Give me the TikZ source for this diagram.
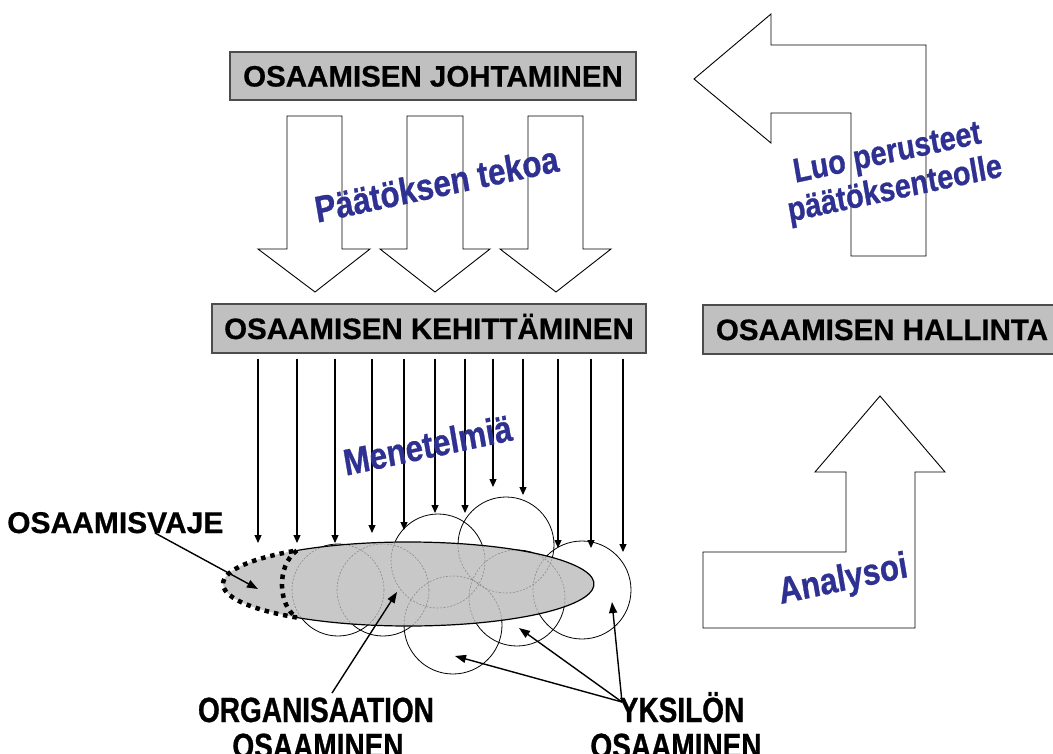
\documentclass[tikz,border=0pt]{standalone}
\usepackage{fontspec}
\setmainfont{Liberation Sans}[FakeBold=0.6]
\newfontfamily\boldsans[FakeBold=0.6]{Liberation Sans}
\newfontfamily\narrowsans[FakeStretch=0.8,FakeBold=0.8]{Liberation Sans}
\newfontfamily\notesans[FakeStretch=0.85,FakeSlant=0.04,FakeBold=0.8]{Liberation Sans}
\usetikzlibrary{arrows.meta,calc}
\definecolor{boxgray}{RGB}{192,192,192}
\definecolor{blobgray}{RGB}{200,200,200}
\definecolor{noteblue}{RGB}{46,49,146}
\begin{document}
\begin{tikzpicture}[x=1pt,y=-1pt,
  headbox/.style={draw=black!70, line width=1.3pt, fill=boxgray, inner sep=0pt,
    font=\boldsans\bfseries\fontsize{29.5}{34}\selectfont, text height=21pt, text depth=0pt},
  blockarrow/.style={draw=black, line width=0.9pt, fill=white, line join=miter},
  method/.style={line width=1.2pt, -{Triangle[length=8pt,width=7pt]}},
  callout/.style={line width=1.4pt, -{Triangle[length=11pt,width=8pt]}},
  bluelabel/.style={text=noteblue, font=\notesans\bfseries\fontsize{37}{40}\selectfont, rotate=12, align=center, inner sep=0pt},
  blacklabel/.style={font=\boldsans\bfseries\fontsize{30}{34}\selectfont, inner sep=0pt},
  narrowlabel/.style={font=\narrowsans\bfseries\fontsize{35}{39}\selectfont, inner sep=0pt},
  person/.style={draw=black, line width=0.8pt},
  personinside/.style={draw=black!45, line width=0.6pt, dash pattern=on 2pt off 1.5pt},
  gapline/.style={line width=4.5pt, dash pattern=on 4.5pt off 5pt}
]
\useasboundingbox (0,0) rectangle (1053,753);
\clip (0,0) rectangle (1053,753);

% block arrows: decisions flowing down
\foreach \l/\r/\hl/\hr/\tip in {287/342/258/370/315, 407/463/380/490/435, 528/583/500/611/556}
  \draw[blockarrow] (\l,116) -- (\r,116) -- (\r,249) -- (\hr,249) -- (\tip,292)
    -- (\hl,249) -- (\l,249) -- cycle;

% bent arrow back to management
\draw[blockarrow] (694,79) -- (771,14) -- (771,45) -- (926,45) -- (926,256)
  -- (851,256) -- (851,113) -- (771,113) -- (771,143) -- cycle;

% bent arrow up to competence management
\draw[blockarrow] (880,396) -- (945,472) -- (915,472) -- (915,628) -- (703,628)
  -- (703,552) -- (846,552) -- (846,472) -- (815,472) -- cycle;

% the three level boxes
\node[headbox, minimum width=406pt, minimum height=48pt] (lead) at (433,76) {OSAAMISEN JOHTAMINEN};
\node[headbox, minimum width=434pt, minimum height=49pt] (develop) at (429,328.5) {OSAAMISEN KEHITTÄMINEN};
\node[headbox, minimum width=358pt, minimum height=49pt] (manage) at (882,329.5) {OSAAMISEN HALLINTA};

% individual competences
\def\people{338/590/46, 383/590/46, 438/561/47, 506/545/48, 582/590/49, 517/598/48, 453/625/49}
\foreach \cx/\cy/\r in \people
  \draw[person] (\cx,\cy) circle [radius=\r];

% organisational competence
\fill[blobgray] (408.5,584) ellipse [x radius=185.5, y radius=42];
\begin{scope}
  \clip (408.5,584) ellipse [x radius=185.5, y radius=42];
  \foreach \cx/\cy/\r in \people
    \draw[personinside] (\cx,\cy) circle [radius=\r];
\end{scope}
\draw[line width=1.2pt] ($(408.5,584)+(233:185.5 and 42)$)
  arc [start angle=233, end angle=487, x radius=185.5, y radius=42];
% competence gap
\draw[gapline] ($(408.5,584)+(127:185.5 and 42)$)
  arc [start angle=127, end angle=233, x radius=185.5, y radius=42];
\draw[gapline] ($(408.5,584)+(233:185.5 and 42)$)
  .. controls (276,566) and (278,606) .. ($(408.5,584)+(127:185.5 and 42)$);

% methods reaching the competences
\foreach \x/\y in {258/543, 297/543, 335/543, 372/533, 404/530, 435/513,
                   465/513, 493/487, 523/495, 558/548, 591/548, 623/552}
  \draw[method] (develop.south -| \x,0) ++(0,5) -- (\x,\y);

% blue annotations
\node[bluelabel] (decide) at (436,184) {Päätöksen tekoa};
\node[bluelabel] (methods) at (427,445) {Menetelmiä};
\node[bluelabel, font=\notesans\bfseries\fontsize{34}{37}\selectfont] (basis) at (891,173) {Luo perusteet\\päätöksenteolle};
\node[bluelabel] (analyse) at (843,581) {Analysoi};

% labels and callouts
\node[blacklabel, anchor=base west] (gap) at (7,533) {OSAAMISVAJE};
\coordinate (gapfoot) at (155,533);
\draw[callout] (gapfoot) -- (258,589);

\node[narrowlabel, anchor=base] (org) at (316,722) {ORGANISAATION};
\node[narrowlabel, anchor=base] (orgb) at (318,758) {OSAAMINEN};
\coordinate (orgfoot) at (332,693);
\draw[callout] (orgfoot) -- (397,592);

\node[narrowlabel, anchor=base] (ind) at (682,722) {YKSILÖN};
\node[narrowlabel, anchor=base] (indb) at (676,758) {OSAAMINEN};
\coordinate (indfoot) at (622,702);
\draw[callout] (indfoot) -- (455,656);
\draw[callout] (indfoot) -- (519,628);
\draw[callout] (indfoot) -- (612,602);
\end{tikzpicture}
\end{document}
